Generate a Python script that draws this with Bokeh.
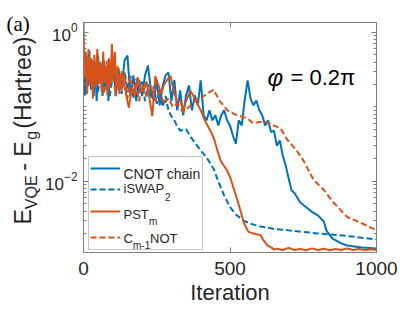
import math
from bokeh.plotting import figure
from bokeh.models import (Range1d, LogAxis, LinearAxis, FixedTicker, Label, Legend,
                          LegendItem, BoxAnnotation)
from bokeh.embed import file_html
from bokeh.resources import INLINE

# ---------------- data ----------------
cnot_it = [0, 5, 10, 15, 20, 25, 30, 35, 40, 45, 50, 55, 60, 65, 70, 75, 80, 85, 90, 95, 100,
           110, 120, 130, 140, 150, 160, 170, 180, 190, 200, 210, 220, 230, 240, 250, 260, 270,
           280, 290, 300, 310, 320, 330, 340, 350, 360, 370, 380, 390, 400, 410, 420, 430, 440,
           450, 460, 470, 480, 490, 500, 510, 520, 530, 540, 550, 560, 570, 580, 590, 600, 610,
           620, 630, 640, 650, 660, 670, 680, 690, 700, 710, 720,
           740, 760, 780, 800, 820, 830, 850, 880, 900, 950, 1000]
cnot_val = [0.42, 0.143, 0.49, 0.19, 0.57, 0.17, 0.42, 0.14, 0.36, 0.12, 0.49, 0.23, 0.31, 0.14,
            0.42, 0.17, 0.36, 0.12, 0.31, 0.19, 0.42,
            0.14, 0.31, 0.17, 0.42, 0.49, 0.14, 0.265, 0.12, 0.23, 0.14,
            0.265, 0.36, 0.17, 0.12, 0.23, 0.105, 0.19, 0.265, 0.29, 0.12,
            0.23, 0.09, 0.167, 0.077, 0.143, 0.194, 0.09, 0.143, 0.105, 0.227,
            0.077, 0.066, 0.09, 0.066, 0.077, 0.0565, 0.077, 0.09, 0.066, 0.0565,
            0.041, 0.032, 0.066, 0.0565, 0.122, 0.227, 0.13, 0.105, 0.122, 0.09,
            0.077, 0.0565, 0.066, 0.046, 0.048, 0.030, 0.0355, 0.0223, 0.0164, 0.011,
            0.0076, 0.0070,
            0.0052, 0.0045, 0.0039, 0.0035, 0.0029, 0.00215, 0.0017, 0.00147, 0.00138,
            0.0013, 0.00126]

iswap_it = [0, 10, 20, 30, 40, 50, 60, 70, 80, 90, 100, 110, 120, 130, 140, 150, 160, 170, 180,
            190, 200, 210, 220, 230, 240, 250, 260, 270, 280, 290, 300,
            310, 320, 330, 350, 365, 380, 400, 420, 445, 460, 480, 500, 520, 545, 570, 600, 650,
            700, 800, 900, 1000]
iswap_val = [0.30, 0.15, 0.40, 0.20, 0.33, 0.16, 0.38, 0.19, 0.30, 0.14, 0.33, 0.18, 0.28, 0.15,
             0.30, 0.17, 0.26, 0.13, 0.24, 0.15, 0.22, 0.12, 0.20, 0.13, 0.19, 0.11, 0.17, 0.10,
             0.14, 0.09, 0.075,
             0.066, 0.055, 0.048, 0.050, 0.040, 0.033, 0.026, 0.021, 0.0145, 0.010, 0.0065,
             0.0045, 0.0036, 0.0030, 0.0027, 0.0025, 0.0023, 0.0022, 0.0020, 0.00185, 0.00166]

pst_it = [0, 3, 8, 12, 17, 22, 27, 32, 37, 42, 47, 52, 57, 62, 67, 72, 77, 82, 87, 92,
          97, 102, 107, 112, 117, 122, 130, 140, 150, 155, 165, 175, 185, 195, 205, 215, 225, 235,
          245, 255, 265, 275, 285, 297, 310, 320, 331, 341, 350, 365, 380, 400, 415, 433, 445,
          457, 468, 478, 490, 502, 515, 526, 536, 546, 555, 563, 580, 604, 615, 628, 640, 650,
          660, 680, 700, 720, 740, 760, 780, 800, 820, 840, 860, 880, 900, 920, 940, 960, 980,
          1000]
pst_val = [1.36, 0.25, 0.55, 0.15, 0.60, 0.20, 0.45, 0.13, 0.50, 0.18,
           0.60, 0.20, 0.40, 0.16, 0.55, 0.22, 0.35, 0.14, 0.45, 0.20,
           0.70, 0.25, 0.55, 0.17, 0.35, 0.15, 0.30, 0.19, 0.12, 0.098,
           0.18, 0.14, 0.25, 0.17, 0.16, 0.22, 0.13, 0.075, 0.26, 0.20,
           0.15, 0.20, 0.23, 0.26, 0.15, 0.12, 0.12, 0.09, 0.12, 0.165,
           0.13, 0.09, 0.065, 0.048, 0.038, 0.026, 0.019, 0.0165, 0.014, 0.011,
           0.0075, 0.0055, 0.0040, 0.0029, 0.0024, 0.0021, 0.0020, 0.0019, 0.0016, 0.00138,
           0.0013, 0.00122, 0.00125, 0.0012, 0.00128, 0.0012, 0.00124, 0.00119, 0.00126, 0.0012,
           0.00125, 0.00119, 0.00124, 0.0012, 0.00126, 0.0012, 0.00124, 0.00119, 0.00123, 0.0012]

cm_it = [0, 10, 20, 30, 40, 50, 60, 70, 80, 90, 100, 110, 120, 130, 140, 150, 160, 170, 180,
         190, 200, 215, 230, 245, 260, 275, 290, 305, 320, 340, 360, 380, 400, 420, 444, 465,
         491, 515, 536, 560, 580, 600, 628, 650, 672, 696, 724, 751, 785, 819, 853, 901, 945,
         1000]
cm_val = [0.50, 0.20, 0.45, 0.17, 0.40, 0.22, 0.35, 0.15, 0.42, 0.18, 0.30, 0.14, 0.33, 0.17,
          0.28, 0.13, 0.25, 0.15, 0.22, 0.12, 0.20,
          0.14, 0.19, 0.12, 0.16, 0.11, 0.13, 0.10, 0.11, 0.085, 0.10,
          0.12, 0.13, 0.15, 0.17, 0.12, 0.09, 0.08, 0.075, 0.070, 0.060,
          0.063, 0.062, 0.056, 0.052, 0.036, 0.027, 0.019, 0.0105, 0.0078, 0.0052,
          0.0033, 0.0028, 0.0022]

x_ticks = [0, 500, 1000]
y_ticks = [0.01, 1]
y_minor = [m * 10.0 ** e for e in (-3, -2, -1) for m in range(2, 10)] + [0.1]
x_limits = (0, 1000)
y_limits = (0.00111, 1.36)

series_labels = ["CNOT chain", "iSWAP", "PST", "C"]

assert len(cnot_it) == len(cnot_val)
assert len(iswap_it) == len(iswap_val)
assert len(pst_it) == len(pst_val)
assert len(cm_it) == len(cm_val)

BLUE = "#0072BD"
ORANGE = "#D95319"
AXC = "#7f7f7f"
TXT = "#262626"
FONT = "Liberation Sans"
NB = "\u00a0"

# frame: x 83..376, y 22..252 in the picture
p = figure(width=407, height=310, output_backend="svg", toolbar_location=None,
           x_range=Range1d(*x_limits), y_range=Range1d(*y_limits), y_axis_type="log",
           x_axis_location=None, y_axis_location=None,
           min_border_left=83, min_border_right=31, min_border_top=22, min_border_bottom=58)
p.xgrid.visible = False
p.ygrid.visible = False
p.outline_line_color = AXC
p.outline_line_width = 1
p.background_fill_color = "white"
p.border_fill_color = "white"

def style_axis(ax, labels=True, size="19px", standoff=9):
    ax.axis_line_color = AXC
    ax.major_tick_line_color = AXC
    ax.minor_tick_line_color = AXC
    ax.major_tick_in = 5
    ax.major_tick_out = 0
    ax.minor_tick_in = 3
    ax.minor_tick_out = 0
    ax.major_label_text_font = FONT
    ax.major_label_text_color = TXT
    ax.major_label_standoff = standoff
    if labels:
        ax.major_label_text_font_size = size
    else:
        ax.major_label_text_font_size = "1px"
        ax.major_label_text_alpha = 0.0
        ax.major_label_standoff = 0

xt = FixedTicker(ticks=x_ticks, minor_ticks=[])
yt = FixedTicker(ticks=y_ticks, minor_ticks=y_minor)

bottom = LinearAxis(ticker=xt, axis_label="Iteration"); style_axis(bottom, True, "19px", 9)
bottom.axis_label_text_font = FONT
bottom.axis_label_text_font_size = "22px"
bottom.axis_label_text_font_style = "normal"
bottom.axis_label_text_color = TXT
bottom.axis_label_standoff = 2
top = LinearAxis(ticker=xt); style_axis(top, False)
left = LogAxis(ticker=yt); style_axis(left, True, "17px", 6)
right = LogAxis(ticker=yt); style_axis(right, False)
p.add_layout(bottom, "below")
p.add_layout(top, "above")
p.add_layout(left, "left")
p.add_layout(right, "right")

r1 = p.line(cnot_it, cnot_val, line_color=BLUE, line_width=2)
r2 = p.line(iswap_it, iswap_val, line_color=BLUE, line_width=2, line_dash="6 3")
r3 = p.line(pst_it, pst_val, line_color=ORANGE, line_width=2)
r4 = p.line(cm_it, cm_val, line_color=ORANGE, line_width=2, line_dash="6 3")

# ---------------- annotations ----------------
FL, FR, FT, FB = 83, 376, 22, 252  # picture position of the frame edges
HID = 1                             # size of the hidden mirror axes
SHIFT = 6                           # lift of the side-panel texts

def lab(text, px, py, size, font=FONT, color=TXT, **kw):
    p.add_layout(Label(x=px - FL, y=FB - py, x_units="screen", y_units="screen", text=text,
                       text_font=font, text_font_size=f"{size}px", text_color=color,
                       text_baseline=kw.pop("text_baseline", "alphabetic"), **kw))

# legend frame
p.add_layout(BoxAnnotation(left=88 - FL, right=202 - FL, top=FB - 156, bottom=FB - 249,
                           left_units="screen", right_units="screen",
                           top_units="screen", bottom_units="screen",
                           fill_color="white", fill_alpha=1.0,
                           line_color="#404040", line_width=1, level="annotation"))

for r, ly in ((r1, 168.3), (r2, 189.3), (r3, 210.7), (r4, 236.7)):
    leg = Legend(items=[LegendItem(label=" ", renderers=[r])],
                 location=(90 - FL, FB - (ly + 5)),
                 glyph_width=30, glyph_height=10, label_standoff=0, label_width=1,
                 label_height=10, label_text_font_size="6px", padding=0, margin=0,
                 spacing=0, border_line_color=None, background_fill_alpha=0.0)
    p.add_layout(leg)

lab(series_labels[0], 123, 173, 14)
lab(series_labels[1], 123, 188, 13)
lab("2", 164.5, 196, 10)
lab(series_labels[2], 123, 214, 13)
lab("m", 148.5, 221, 10)
lab(series_labels[3], 123, 238, 13)
lab("m-1", 132.5, 245, 10)
lab("NOT", 149.5, 238, 13)

lab("φ", 267, 77, 24, color="black", text_font_style="italic")
lab("= 0.2π", 290, 77, 22, color="black")

# ---- texts outside the frame: side-panel labels (not clipped) ----
A = math.pi / 2
# main part of the y title, in the right panel (origin: its panel's left/bottom)
main_y = "E" + NB * 5 + NB + "-" + NB + "E" + NB * 2 + "(Hartree)"
p.add_layout(Label(x=23 - (FR + HID), y=FB - 230 + SHIFT, x_units="screen", y_units="screen",
                   text=main_y, angle=A, text_align="left", text_baseline="alphabetic",
                   text_font=FONT, text_font_size="23px", text_color=TXT), "right")
# panel tag, in the left panel (next to the y axis)
p.add_layout(Label(x=-13, y=FB - 29 + SHIFT, x_units="screen", y_units="screen",
                   text="(a)", text_align="left", text_baseline="alphabetic",
                   text_font="Liberation Serif", text_font_size="21px",
                   text_color="black"), "left")
# subscripts of the y title, outermost in the left panel
sub_y = "VQE" + NB * 8 + "g"
p.add_layout(Label(x=29, y=FB - 214.7 + SHIFT, x_units="screen", y_units="screen",
                   text=sub_y, angle=A, text_align="left", text_baseline="alphabetic",
                   text_font=FONT, text_font_size="16px", text_color=TXT), "left")

open("out.html", "w").write(file_html(p, INLINE))
